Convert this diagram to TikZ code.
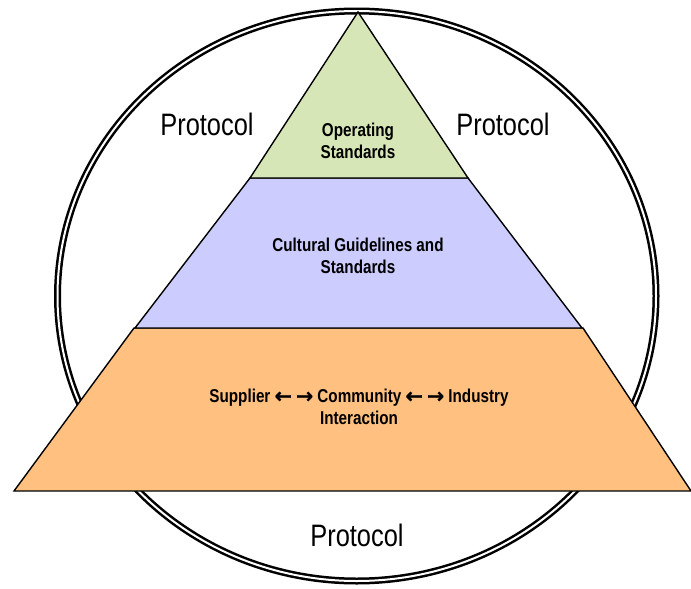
\documentclass[tikz,border=0pt]{standalone}
\usepackage{fontspec}
\setmainfont{Liberation Sans}
\newfontfamily\narrowfont[FakeStretch=0.82]{Liberation Sans}
\newfontfamily\arrowfont[FakeBold=1.5]{DejaVu Sans}
\newcommand{\larr}{{\arrowfont\bfseries\fontsize{20.5}{21.5}\selectfont ←}}
\newcommand{\rarr}{{\arrowfont\bfseries\fontsize{20.5}{21.5}\selectfont →}}
\definecolor{topgreen}{RGB}{215,230,182}
\definecolor{midblue}{RGB}{204,204,255}
\definecolor{lowor}{RGB}{255,192,128}
\tikzset{
  tier/.style={draw=black, line width=1.4pt, line join=miter},
  tierlabel/.style={font=\narrowfont\bfseries\fontsize{18.6}{21.5}\selectfont, align=center, text=black},
  protolabel/.style={font=\narrowfont\fontsize{31}{34}\selectfont, text=black},
  ring/.style={draw=black, double=white, line width=2.5pt, double distance=2pt}
}
\begin{document}
\begin{tikzpicture}[x=1pt,y=-1pt]
\useasboundingbox (0,0) rectangle (691,589);
\draw[ring] (356.75,296) ellipse [x radius=299.25, y radius=285];
% tiers
\coordinate (apex) at (358,12);
\coordinate (gl) at (250,178);
\coordinate (gr) at (468,178);
\coordinate (bl) at (135,328);
\coordinate (br) at (582,328);
\coordinate (ol) at (134,328);
\coordinate (or) at (583,328);
\coordinate (obl) at (14,491);
\coordinate (obr) at (691,491);
\filldraw[tier, fill=lowor] (ol) -- (or) -- (obr) -- (obl) -- cycle;
\filldraw[tier, fill=midblue] (gl) -- (gr) -- (br) -- (bl) -- cycle;
\filldraw[tier, fill=topgreen] (apex) -- (gr) -- (gl) -- cycle;
% labels
\node[tierlabel] (ops) at (358,141) {Operating\\Standards};
\node[tierlabel] (cult) at (358,256) {Cultural Guidelines and\\Standards};
\node[tierlabel] (inter) at (359,407) {Supplier \larr{} \rarr{} Community \larr{} \rarr{} Industry\\Interaction};
\node[protolabel] (pl) at (207,124) {Protocol};
\node[protolabel] (pr) at (503,124) {Protocol};
\node[protolabel] (pb) at (357,535) {Protocol};
\end{tikzpicture}
\end{document}
